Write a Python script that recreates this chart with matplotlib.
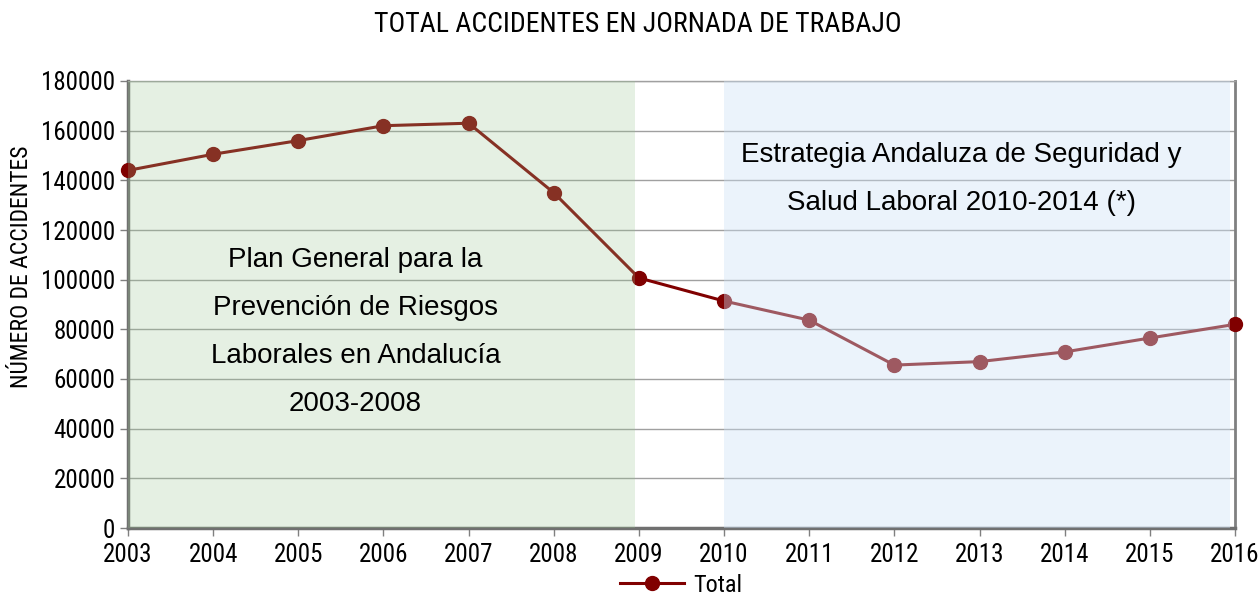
import matplotlib
matplotlib.use("Agg")
import matplotlib.pyplot as plt
from matplotlib import font_manager
from matplotlib.patches import Rectangle

# Datos
anios = [2003, 2004, 2005, 2006, 2007, 2008, 2009, 2010, 2011, 2012, 2013, 2014, 2015, 2016]
total = [144000, 150500, 156000, 162000, 163000, 135000, 100700, 91400, 83700, 65600, 67000, 70900, 76500, 82000]
yticks = [0, 20000, 40000, 60000, 80000, 100000, 120000, 140000, 160000, 180000]

titulo = "TOTAL ACCIDENTES EN JORNADA DE TRABAJO"
ylabel = "NÚMERO DE ACCIDENTES"
texto_plan = "Plan General para la\nPrevención de Riesgos\nLaborales en Andalucía\n2003-2008"
texto_estrategia = "Estrategia Andaluza de Seguridad y\nSalud Laboral 2010-2014 (*)"

# fuente estrecha si existe
nombres = {f.name for f in font_manager.fontManager.ttflist}
estrecha = None
for n in ["Liberation Sans Narrow", "DejaVu Sans Condensed", "Roboto Condensed", "Open Sans Condensed"]:
    if n in nombres:
        estrecha = n
        break
if estrecha:
    narrow = {"family": [estrecha, "DejaVu Sans"]}
    k = 1.0
else:
    narrow = {"family": ["DejaVu Sans"], "stretch": "condensed"}
    k = 0.85
arial = ["Liberation Sans", "DejaVu Sans"]

fig = plt.figure(figsize=(12.6, 5.99), dpi=100)
ax = fig.add_axes([128 / 1260, 1 - 528 / 599, (1235 - 128) / 1260, (528 - 81) / 599])

# rejilla
ax.set_axisbelow(True)
ax.yaxis.grid(True, color="#a0a0a0", linewidth=1)

# linea
ax.plot(anios, total, color="#800000", linewidth=2.2, marker="o", markersize=10,
        label="Total", zorder=3, clip_on=False)

# zonas sombreadas (encima de la linea, semitransparentes)
ax.add_patch(Rectangle((2003, 0), 5.95, 180000, facecolor="#98c490", alpha=0.25,
                       edgecolor="none", zorder=4))
ax.add_patch(Rectangle((2010, 0), 5.94, 180000, facecolor="#cde1f5", alpha=0.4,
                       edgecolor="none", zorder=4))

ax.text(2005.67, 79100, texto_plan, ha="center", va="center", fontsize=20,
        family=arial, linespacing=2.1, zorder=5)
ax.text(2012.79, 140700, texto_estrategia, ha="center", va="center", fontsize=20,
        family=arial, linespacing=2.1, zorder=5)

ax.set_xlim(2003, 2016)
ax.set_ylim(0, 180000)
ax.set_xticks(anios)
ax.set_yticks(yticks)
ax.set_xticklabels([str(a) for a in anios], fontsize=18 * k, **narrow)
ax.set_yticklabels([str(v) for v in yticks], fontsize=18 * k, **narrow)
ax.tick_params(axis="both", length=6, color="#808080", width=1)
ax.tick_params(axis="y", pad=3)
ax.tick_params(axis="x", pad=5)

for s in ["left", "bottom"]:
    ax.spines[s].set_color("#707070")
    ax.spines[s].set_linewidth(2.5)
ax.spines["right"].set_color("#808080")
ax.spines["right"].set_linewidth(2)
ax.spines["top"].set_color("#a0a0a0")
ax.spines["top"].set_linewidth(1)

fig.text(22 / 1260, 1 - 267 / 599, ylabel, rotation=90, ha="center", va="center",
         fontsize=17 * k, **narrow)
fig.text(638 / 1260, 1 - 24 / 599, titulo, ha="center", va="center",
         fontsize=20 * k, **narrow)

leg = ax.legend(loc="center", bbox_to_anchor=(0.5, -(585 - 528) / 447), frameon=False,
                prop=dict(size=17.5 * k, **narrow), handlelength=2.6,
                handletextpad=0.4, borderpad=0)

fig.savefig("out.png", dpi=100)
